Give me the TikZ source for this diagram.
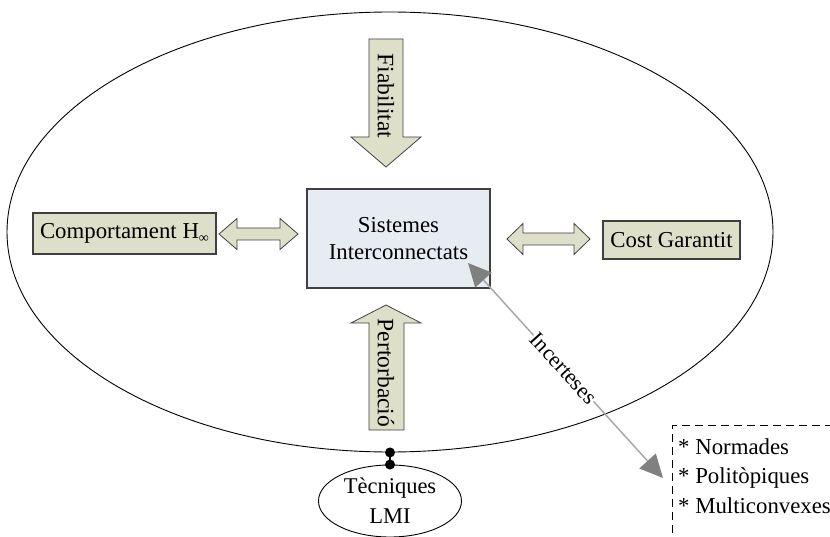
\documentclass[tikz,border=0pt]{standalone}
\usepackage{fontspec}
\setmainfont{Liberation Serif}
\usetikzlibrary{shapes.geometric,arrows.meta,calc}
\definecolor{khaki}{HTML}{DEDFC8}
\definecolor{bluebox}{HTML}{E7ECF2}
\definecolor{edge}{HTML}{404040}
\definecolor{incline}{HTML}{A8A8A8}
\definecolor{inchead}{HTML}{808080}
\begin{document}
\begin{tikzpicture}[x=1pt,y=-1pt,
  txt/.style={font=\fontsize{22.8}{27}\selectfont},
  lbox/.style={draw=edge, line width=1.1pt, fill=khaki, inner sep=0pt, txt},
  blockarrow/.style={draw=edge, line width=0.8pt, fill=khaki, line join=miter},
  vlabel/.style={rotate=-90, inner sep=0pt, font=\fontsize{23.5}{23.5}\selectfont},
  ring/.style={draw=black, line width=0.9pt, ellipse, inner sep=0pt}
]
\useasboundingbox (0,0) rectangle (830,537);
\clip (0,0) rectangle (830,537);

% big ellipse
\node[ring, minimum width=766pt, minimum height=440pt] (big) at (390,232) {};

% boxes
\node[lbox, fill=bluebox, minimum width=183pt, minimum height=99pt, align=center] (sis) at (398.5,238.5) {Sistemes\\Interconnectats};
\node[lbox, minimum width=183pt, minimum height=41pt] (comp) at (124.5,233.5) {Comportament H\raisebox{-0.35ex}{\fontsize{14}{14}\selectfont ∞}};
\node[lbox, minimum width=137pt, minimum height=38pt] (cost) at (671.5,240) {Cost Garantit};

% block arrows
\draw[blockarrow] (369,39) -- (403,39) -- (403,137) -- (421,137) -- (386,167) -- (351,137) -- (369,137) -- cycle;
\node[vlabel] (fiab) at (386,96) {Fiabilitat};

\draw[blockarrow] (386,305) -- (421,323) -- (404,323) -- (404,430) -- (369,430) -- (369,323) -- (351,323) -- cycle;
\node[vlabel] (pert) at (386,373) {Pertorbació};

\draw[blockarrow] (219,234) -- (237,218.5) -- (237,228) -- (280,228) -- (280,218.5) -- (298,234) -- (280,249.5) -- (280,240) -- (237,240) -- (237,249.5) -- cycle;
\draw[blockarrow] (507,239) -- (523,223.5) -- (523,233) -- (574,233) -- (574,223.5) -- (590,239) -- (574,254.5) -- (574,245) -- (523,245) -- (523,254.5) -- cycle;

% LMI ellipse and link
\node[ring, minimum width=143pt, minimum height=72pt, align=center, font=\fontsize{22.5}{30}\selectfont] (lmi) at (390,501) {Tècniques\\LMI};
\draw[line width=1.2pt] (big.south) -- (lmi.north);
\fill (big.south) circle (5pt);
\fill (lmi.north) circle (5pt);

% uncertainty box
\node[draw=black, dash pattern=on 8pt off 5pt, line width=1pt, anchor=north west, minimum width=200pt, minimum height=111.5pt, inner sep=0pt] (unc) at (672,425) {};
\node[anchor=north west, align=left, inner sep=0pt, font=\fontsize{22.8}{29.5}\selectfont] (unctext) at (678,438) {* Normades\\* Politòpiques\\* Multiconvexes};

% Incerteses connector
\coordinate (incA) at (468,263);
\coordinate (incB) at (663,478);
\draw[incline, line width=1.5pt, {Triangle[length=23pt,width=22pt,color=inchead]}-{Triangle[length=23pt,width=22pt,color=inchead]}] (incA) -- node[sloped, fill=white, inner sep=0.5pt, pos=0.49, text=black, font=\fontsize{22}{22}\selectfont] (inclabel) {Incerteses} (incB);
\end{tikzpicture}
\end{document}
